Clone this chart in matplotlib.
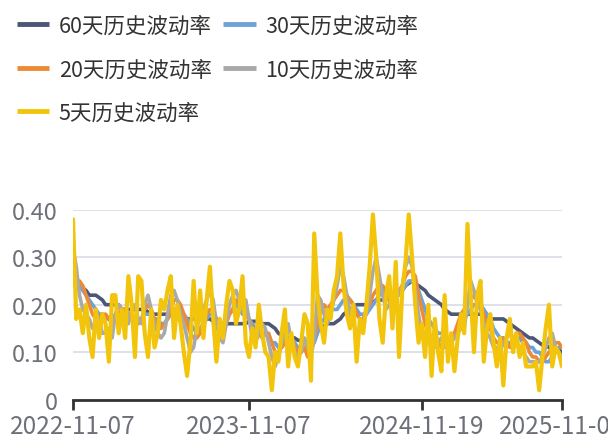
import numpy as np
import matplotlib
matplotlib.use("Agg")
import matplotlib.pyplot as plt

plt.rcParams["font.family"] = ["Noto Sans CJK SC", "DejaVu Sans"]

# 历史波动率 data
tick_labels = ["2022-11-07", "2023-11-07", "2024-11-19", "2025-11-07"]
tick_idx = [0, 54, 107, 150]

vol_60 = [
    0.26, 0.25, 0.24, 0.235, 0.23, 0.22, 0.22, 0.22, 0.215, 0.21,
    0.20, 0.20, 0.20, 0.20, 0.20, 0.19, 0.19, 0.19, 0.19, 0.19,
    0.19, 0.19, 0.19, 0.185, 0.18, 0.18, 0.18, 0.18, 0.18, 0.18,
    0.18, 0.175, 0.175, 0.175, 0.17, 0.17, 0.17, 0.17, 0.17, 0.17,
    0.17, 0.17, 0.17, 0.165, 0.165, 0.16, 0.16, 0.16, 0.16, 0.16,
    0.16, 0.16, 0.16, 0.16, 0.165, 0.165, 0.165, 0.16, 0.16, 0.16,
    0.16, 0.155, 0.15, 0.14, 0.135, 0.13, 0.13, 0.13, 0.13, 0.125,
    0.125, 0.125, 0.12, 0.13, 0.14, 0.145, 0.15, 0.155, 0.16, 0.16,
    0.16, 0.165, 0.17, 0.18, 0.185, 0.19, 0.195, 0.20, 0.20, 0.20,
    0.20, 0.20, 0.205, 0.21, 0.21, 0.21, 0.21, 0.215, 0.22, 0.22,
    0.225, 0.23, 0.24, 0.245, 0.25, 0.245, 0.24, 0.235, 0.23, 0.22,
    0.215, 0.21, 0.205, 0.20, 0.19, 0.185, 0.18, 0.18, 0.18, 0.18,
    0.18, 0.18, 0.18, 0.18, 0.18, 0.18, 0.175, 0.175, 0.17, 0.17,
    0.17, 0.17, 0.17, 0.165, 0.16, 0.155, 0.15, 0.145, 0.14, 0.135,
    0.13, 0.13, 0.125, 0.12, 0.115, 0.115, 0.11, 0.11, 0.105, 0.105, 0.10,
]

vol_30 = [
    0.25, 0.24, 0.24, 0.23, 0.22, 0.21, 0.20, 0.19, 0.18, 0.18,
    0.17, 0.17, 0.17, 0.18, 0.18, 0.18, 0.19, 0.18, 0.18, 0.17,
    0.17, 0.17, 0.18, 0.18, 0.18, 0.17, 0.17, 0.16, 0.16, 0.17,
    0.18, 0.19, 0.19, 0.19, 0.18, 0.17, 0.16, 0.15, 0.14, 0.15,
    0.16, 0.17, 0.18, 0.18, 0.17, 0.16, 0.16, 0.17, 0.18, 0.19,
    0.20, 0.19, 0.18, 0.18, 0.17, 0.16, 0.15, 0.15, 0.14, 0.14,
    0.13, 0.12, 0.12, 0.11, 0.11, 0.12, 0.12, 0.13, 0.12, 0.11,
    0.11, 0.11, 0.10, 0.11, 0.12, 0.14, 0.16, 0.17, 0.18, 0.19,
    0.19, 0.19, 0.20, 0.21, 0.21, 0.21, 0.20, 0.19, 0.18, 0.18,
    0.18, 0.19, 0.20, 0.21, 0.22, 0.23, 0.22, 0.21, 0.21, 0.22,
    0.22, 0.23, 0.24, 0.25, 0.25, 0.24, 0.23, 0.21, 0.19, 0.17,
    0.16, 0.15, 0.14, 0.14, 0.13, 0.13, 0.13, 0.14, 0.15, 0.16,
    0.17, 0.18, 0.19, 0.20, 0.20, 0.20, 0.19, 0.18, 0.17, 0.15,
    0.14, 0.13, 0.13, 0.12, 0.12, 0.12, 0.13, 0.13, 0.12, 0.12,
    0.11, 0.11, 0.10, 0.10, 0.09, 0.08, 0.08, 0.09, 0.10, 0.11, 0.11,
]

vol_20 = [
    0.26, 0.25, 0.25, 0.24, 0.22, 0.20, 0.18, 0.17, 0.17, 0.18,
    0.18, 0.17, 0.16, 0.17, 0.18, 0.19, 0.19, 0.18, 0.17, 0.16,
    0.16, 0.17, 0.19, 0.20, 0.19, 0.17, 0.16, 0.15, 0.16, 0.17,
    0.19, 0.21, 0.21, 0.20, 0.18, 0.16, 0.14, 0.13, 0.13, 0.14,
    0.16, 0.18, 0.19, 0.19, 0.17, 0.15, 0.14, 0.16, 0.18, 0.19,
    0.21, 0.20, 0.19, 0.18, 0.17, 0.15, 0.14, 0.14, 0.13, 0.14,
    0.14, 0.12, 0.10, 0.10, 0.11, 0.12, 0.13, 0.13, 0.11, 0.10,
    0.10, 0.11, 0.09, 0.10, 0.13, 0.16, 0.19, 0.20, 0.19, 0.20,
    0.21, 0.22, 0.23, 0.23, 0.22, 0.21, 0.20, 0.18, 0.17, 0.17,
    0.19, 0.20, 0.22, 0.23, 0.24, 0.24, 0.23, 0.21, 0.20, 0.22,
    0.23, 0.24, 0.26, 0.27, 0.27, 0.26, 0.22, 0.19, 0.16, 0.14,
    0.13, 0.12, 0.12, 0.11, 0.12, 0.12, 0.13, 0.14, 0.16, 0.18,
    0.19, 0.20, 0.21, 0.22, 0.21, 0.20, 0.18, 0.16, 0.15, 0.13,
    0.12, 0.12, 0.13, 0.12, 0.11, 0.12, 0.14, 0.14, 0.13, 0.12,
    0.10, 0.09, 0.09, 0.08, 0.08, 0.09, 0.10, 0.11, 0.12, 0.12, 0.11,
]

vol_10 = [
    0.32, 0.28, 0.22, 0.19, 0.18, 0.17, 0.15, 0.16, 0.17, 0.14,
    0.14, 0.15, 0.13, 0.18, 0.20, 0.19, 0.17, 0.16, 0.19, 0.20,
    0.17, 0.16, 0.20, 0.22, 0.19, 0.16, 0.14, 0.13, 0.14, 0.18,
    0.22, 0.23, 0.21, 0.18, 0.16, 0.13, 0.10, 0.11, 0.15, 0.18,
    0.19, 0.21, 0.23, 0.21, 0.16, 0.13, 0.12, 0.16, 0.20, 0.22,
    0.23, 0.21, 0.19, 0.21, 0.17, 0.13, 0.12, 0.14, 0.16, 0.15,
    0.12, 0.09, 0.07, 0.09, 0.12, 0.14, 0.16, 0.12, 0.10, 0.09,
    0.10, 0.13, 0.11, 0.09, 0.13, 0.22, 0.21, 0.18, 0.16, 0.18,
    0.21, 0.24, 0.28, 0.26, 0.22, 0.18, 0.16, 0.14, 0.15, 0.17,
    0.18, 0.22, 0.27, 0.30, 0.26, 0.22, 0.19, 0.20, 0.22, 0.23,
    0.22, 0.24, 0.28, 0.30, 0.28, 0.23, 0.18, 0.14, 0.13, 0.14,
    0.12, 0.11, 0.12, 0.13, 0.11, 0.12, 0.12, 0.13, 0.14, 0.15,
    0.15, 0.20, 0.25, 0.23, 0.20, 0.19, 0.16, 0.14, 0.13, 0.11,
    0.11, 0.10, 0.12, 0.13, 0.14, 0.13, 0.12, 0.11, 0.10, 0.09,
    0.08, 0.08, 0.08, 0.08, 0.09, 0.11, 0.13, 0.14, 0.11, 0.10, 0.09,
]

vol_5 = [
    0.38, 0.17, 0.19, 0.14, 0.20, 0.13, 0.09, 0.19, 0.13, 0.18,
    0.16, 0.08, 0.22, 0.22, 0.14, 0.19, 0.13, 0.26, 0.20, 0.09,
    0.26, 0.25, 0.14, 0.09, 0.19, 0.11, 0.14, 0.21, 0.19, 0.23,
    0.26, 0.13, 0.20, 0.16, 0.10, 0.05, 0.12, 0.25, 0.14, 0.23,
    0.13, 0.21, 0.28, 0.17, 0.08, 0.17, 0.13, 0.20, 0.25, 0.23,
    0.16, 0.19, 0.26, 0.12, 0.09, 0.15, 0.11, 0.20, 0.14, 0.10,
    0.09, 0.02, 0.10, 0.08, 0.14, 0.19, 0.07, 0.14, 0.09, 0.07,
    0.12, 0.18, 0.16, 0.04, 0.35, 0.22, 0.16, 0.12, 0.19, 0.17,
    0.23, 0.26, 0.35, 0.24, 0.18, 0.15, 0.20, 0.08, 0.17, 0.14,
    0.20, 0.28, 0.39, 0.30, 0.17, 0.12, 0.22, 0.26, 0.15, 0.29,
    0.09, 0.23, 0.29, 0.39, 0.30, 0.20, 0.12, 0.16, 0.09, 0.20,
    0.05, 0.17, 0.10, 0.06, 0.22, 0.08, 0.14, 0.06, 0.13, 0.18,
    0.14, 0.37, 0.22, 0.10, 0.22, 0.25, 0.08, 0.15, 0.18, 0.12,
    0.07, 0.13, 0.03, 0.13, 0.17, 0.10, 0.14, 0.09, 0.12, 0.07,
    0.07, 0.07, 0.08, 0.02, 0.09, 0.15, 0.20, 0.07, 0.11, 0.10, 0.07,
]

series = [
    ("60天历史波动率", vol_60, "#4b5775", 2.6),
    ("30天历史波动率", vol_30, "#6ba3da", 2.6),
    ("20天历史波动率", vol_20, "#ed8a35", 2.6),
    ("10天历史波动率", vol_10, "#a9a9a9", 2.6),
    ("5天历史波动率", vol_5, "#f2c40c", 3.0),
]

fig = plt.figure(figsize=(6.08, 4.39), dpi=100)
ax = fig.add_axes([73 / 608, 1 - 400.7 / 439, 489 / 608, 190 / 439])

x = np.arange(len(vol_5))
handles = {}
for name, vals, color, lw in series:
    (ln,) = ax.plot(x, vals, color=color, lw=lw, solid_joinstyle="round",
                    solid_capstyle="round", label=name)
    handles[name] = ln

ax.set_xlim(0, len(vol_5) - 1)
ax.set_ylim(0, 0.40)
ax.set_yticks([0, 0.1, 0.2, 0.3, 0.4])
ax.set_yticklabels(["0", "0.10", "0.20", "0.30", "0.40"])
ax.set_xticks(tick_idx)
ax.set_xticklabels(tick_labels)

ax.grid(axis="y", color="#d9dce6", lw=1.2)
ax.set_axisbelow(True)
for side in ["top", "right", "left"]:
    ax.spines[side].set_visible(False)
ax.spines["bottom"].set_color("#333333")
ax.spines["bottom"].set_linewidth(2)
ax.tick_params(axis="y", length=0, pad=11, labelsize=17, labelcolor="#6e7079")
ax.tick_params(axis="x", length=7, width=2, color="#333333", pad=2.5,
               labelsize=17.5, labelcolor="#6e7079")

order = ["60天历史波动率", "20天历史波动率", "5天历史波动率",
         "30天历史波动率", "10天历史波动率"]
leg = fig.legend([handles[n] for n in order], order, ncol=2, loc="upper left",
                 bbox_to_anchor=(6 / 608, 1 - 5 / 439), frameon=False,
                 fontsize=15.5, handlelength=1.5, handletextpad=0.45,
                 columnspacing=0.55, labelspacing=1.0, borderpad=0,
                 labelcolor="#333333")
for h in leg.legend_handles:
    h.set_linewidth(3.5)
    h.set_solid_capstyle("butt")

fig.savefig("out.png", dpi=100)
